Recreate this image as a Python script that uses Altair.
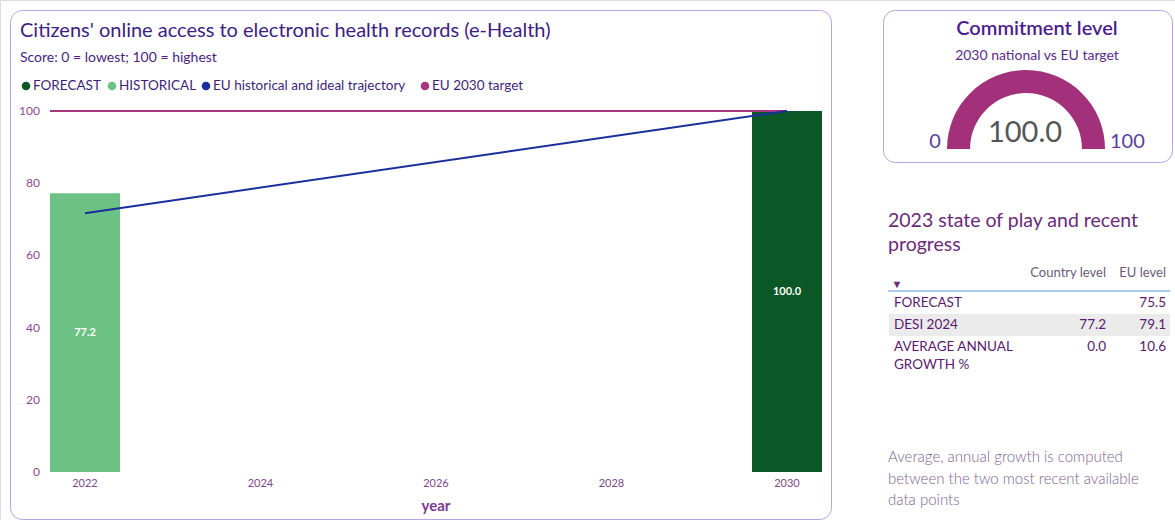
import altair as alt
import pandas as pd

# ---------------- data ----------------
bar_years = [2022, 2030]
bar_values = [77.2, 100.0]
bar_types = ["HISTORICAL", "FORECAST"]

eu_years = [2022, 2030]
eu_values = [71.7, 100.0]

target_value = 100.0
target_year_end = 2030

x_ticks = [2022, 2024, 2026, 2028, 2030]
y_ticks = [0, 20, 40, 60, 80, 100]

gauge_min = [0]
gauge_max = [100]
gauge_value = [100.0]

table_rows = ["FORECAST", "DESI 2024", "AVERAGE ANNUAL|GROWTH %"]
table_country = ["", "77.2", "0.0"]
table_eu = ["75.5", "79.1", "10.6"]

series_names = ["FORECAST", "HISTORICAL", "EU historical and ideal trajectory", "EU 2030 target"]
series_colors = ["#0b5725", "#6cc184", "#1a2f9c", "#a8367f"]

FONT = "Lato"
W, H = 1175, 520

xscale = alt.Scale(domain=[2022, 2030], range=[85, 787], zero=False, nice=False, padding=0)
yscale = alt.Scale(domain=[0, 100], range=[472, 111], nice=False, zero=True, padding=0)

one = pd.DataFrame({"k": [0]})


def txt(s, x, y, size=13, color="#3e1f78", align="left", weight="normal", baseline="middle"):
    return alt.Chart(pd.DataFrame({"t": [s]})).mark_text(
        align=align, baseline=baseline, fontSize=size, color=color, font=FONT, fontWeight=weight
    ).encode(x=alt.value(x), y=alt.value(y), text="t:N")


def box(x, x2, y, y2, stroke="#b9a3e0", fill="white", radius=12, sw=1):
    return alt.Chart(one).mark_rect(
        cornerRadius=radius, stroke=stroke, fill=fill, strokeWidth=sw
    ).encode(x=alt.value(x), x2=alt.value(x2), y=alt.value(y), y2=alt.value(y2))


layers = []

# panels
layers.append(box(10.5, 831.5, 10.5, 519.5))
layers.append(box(883.5, 1172.5, 10.5, 162.5))

# main chart title / subtitle
layers.append(txt("Citizens' online access to electronic health records (e-Health)", 20, 31, 20, "#3d1d82"))
layers.append(txt("Score: 0 = lowest; 100 = highest", 20, 58, 14, "#4a1f80"))

# legend
leg_x = [26, 112, 206, 425]
for name, col, lx in zip(series_names, series_colors, leg_x):
    layers.append(
        alt.Chart(one).mark_point(filled=True, size=75, shape="circle", color=col, opacity=1)
        .encode(x=alt.value(lx), y=alt.value(86))
    )
    layers.append(txt(name, lx + 7, 86, 13.5, "#3e1f78"))

# bars
bars_df = pd.DataFrame({"year": bar_years, "value": bar_values, "type": bar_types})
color_scale = alt.Scale(domain=series_names, range=series_colors)
layers.append(
    alt.Chart(bars_df).mark_bar(width=70).encode(
        x=alt.X("year:Q", scale=xscale, axis=None),
        y=alt.Y("value:Q", scale=yscale, axis=None),
        color=alt.Color("type:N", scale=color_scale, legend=None),
    )
)
# bar labels
layers.append(
    alt.Chart(bars_df).transform_calculate(mid="datum.value / 2").mark_text(
        color="white", fontSize=11, font=FONT, fontWeight="bold", baseline="middle"
    ).encode(
        x=alt.X("year:Q", scale=xscale, axis=None),
        y=alt.Y("mid:Q", scale=yscale, axis=None),
        text=alt.Text("value:Q", format=".1f"),
    )
)

# EU 2030 target line
tgt_df = pd.DataFrame({"v": [target_value], "y2030": [target_year_end]})
layers.append(
    alt.Chart(tgt_df).mark_rule(color=series_colors[3], strokeWidth=2).encode(
        x=alt.X("y2030:Q", scale=xscale, axis=None),
        x2=alt.value(50),
        y=alt.Y("v:Q", scale=yscale, axis=None),
    )
)

# EU trajectory line
eu_df = pd.DataFrame({"year": eu_years, "value": eu_values})
layers.append(
    alt.Chart(eu_df).mark_line(color=series_colors[2], strokeWidth=2).encode(
        x=alt.X("year:Q", scale=xscale, axis=None),
        y=alt.Y("value:Q", scale=yscale, axis=None),
    )
)

# y tick labels
layers.append(
    alt.Chart(pd.DataFrame({"t": y_ticks})).mark_text(
        align="right", baseline="middle", fontSize=12, color="#8a4b8f", font=FONT
    ).encode(x=alt.value(40), y=alt.Y("t:Q", scale=yscale, axis=None), text="t:Q")
)
# x tick labels
layers.append(
    alt.Chart(pd.DataFrame({"t": x_ticks})).mark_text(
        align="center", baseline="middle", fontSize=11, color="#7d4a8a", font=FONT
    ).encode(x=alt.X("t:Q", scale=xscale, axis=None), y=alt.value(484), text=alt.Text("t:Q", format="d"))
)
layers.append(txt("year", 436, 506, 15, "#7a3a90", align="center", weight="bold"))

# gauge
layers.append(txt("Commitment level", 1037, 29, 20, "#4b1d8e", align="center", weight=600))
layers.append(txt("2030 national vs EU target", 1037, 56, 14, "#5a2a8a", align="center"))
theta_scale = alt.Scale(domain=[gauge_min[0], gauge_max[0]], range=[-1.5708, 1.5708])
g_bg = pd.DataFrame({"s": gauge_min, "e": gauge_max})
layers.append(
    alt.Chart(g_bg).mark_arc(radius=79, radius2=56, color="#e6e6e6").encode(
        theta=alt.Theta("s:Q", scale=theta_scale, stack=None), theta2="e:Q",
        x=alt.value(1026), y=alt.value(149),
    )
)
g_df = pd.DataFrame({"s": gauge_min, "e": gauge_value})
layers.append(
    alt.Chart(g_df).mark_arc(radius=79, radius2=56, color="#a3307a").encode(
        theta=alt.Theta("s:Q", scale=theta_scale, stack=None), theta2="e:Q",
        x=alt.value(1026), y=alt.value(149),
    )
)
layers.append(
    alt.Chart(g_df).mark_text(fontSize=29, color="#555555", font=FONT, baseline="middle").encode(
        x=alt.value(1025), y=alt.value(133), text=alt.Text("e:Q", format=".1f")
    )
)
layers.append(
    alt.Chart(g_df).mark_text(fontSize=20, color="#5b3ea0", font=FONT, baseline="middle", align="center").encode(
        x=alt.value(935), y=alt.value(142), text=alt.Text("s:Q", format="d")
    )
)
layers.append(
    alt.Chart(pd.DataFrame({"m": gauge_max})).mark_text(fontSize=20, color="#5b3ea0", font=FONT, baseline="middle", align="left").encode(
        x=alt.value(1110), y=alt.value(142), text=alt.Text("m:Q", format="d")
    )
)

# table
layers.append(txt("2023 state of play and recent", 888, 221, 19.5, "#6b2a7a"))
layers.append(txt("progress", 888, 245, 19.5, "#6b2a7a"))
layers.append(txt("Country level", 1106, 273, 13, "#6b5a7b", align="right"))
layers.append(txt("EU level", 1166, 273, 13, "#6b5a7b", align="right"))
layers.append(txt("▼", 897, 285, 11, "#6b2a7a", align="center"))
layers.append(
    alt.Chart(one).mark_rule(color="#a9cbef", strokeWidth=2).encode(
        x=alt.value(888), x2=alt.value(1170), y=alt.value(291)
    )
)
layers.append(
    alt.Chart(one).mark_rect(color="#ebebeb").encode(
        x=alt.value(889), x2=alt.value(1170), y=alt.value(314), y2=alt.value(336)
    )
)
row_y = [303, 325, 347]
for lab, c, e, ry in zip(table_rows, table_country, table_eu, row_y):
    parts = lab.split("|")
    for i, p in enumerate(parts):
        layers.append(txt(p, 894, ry + i * 18, 13.5, "#5a1a6e"))
    if c:
        layers.append(txt(c, 1106, ry, 13.5, "#5a1a6e", align="right"))
    if e:
        layers.append(txt(e, 1166, ry, 13.5, "#5a1a6e", align="right"))

# footnote
foot = ["Average, annual growth is computed", "between the two most recent available", "data points"]
for i, f in enumerate(foot):
    layers.append(txt(f, 888, 457 + i * 21.5, 15, "#7d6190", weight=300))

chart = alt.layer(*layers).properties(
    width=W, height=H, autosize=alt.AutoSizeParams(type="none"), padding=0
).configure_view(stroke=None).configure(background="white")

chart.save("out.html", embed_options={"renderer": "svg", "actions": False})
